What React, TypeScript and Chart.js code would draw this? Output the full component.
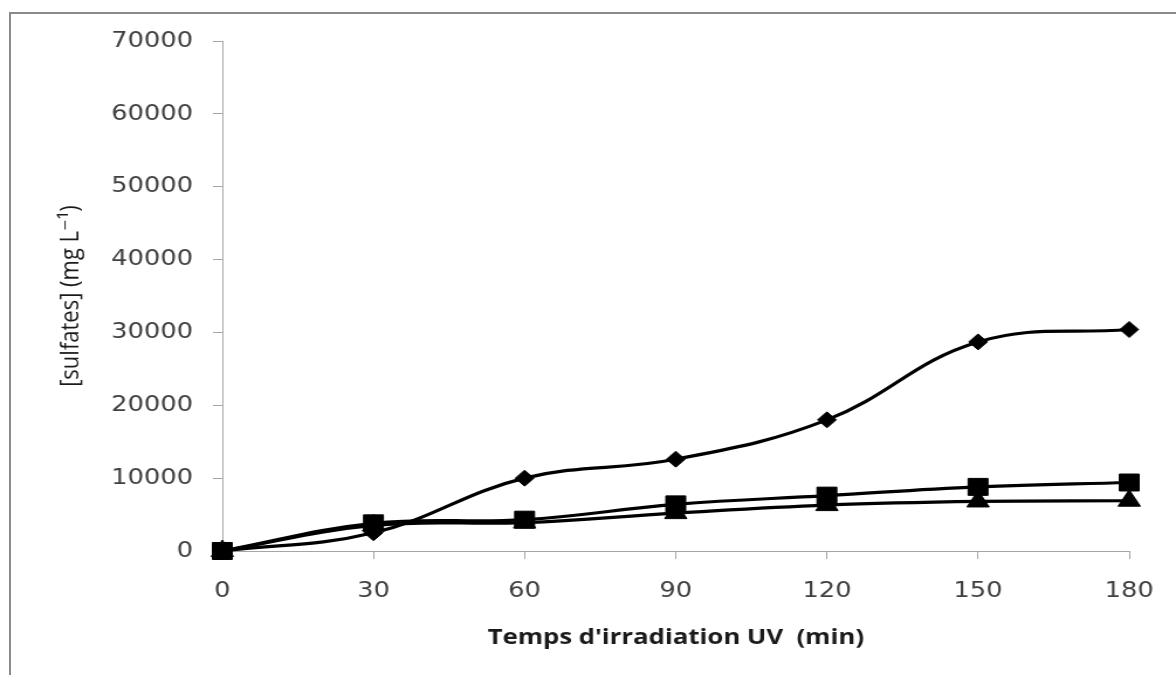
import React, { useEffect, useRef } from "react";
import { Chart, registerables } from "chart.js";

Chart.register(...registerables);

// ---- data ----
const times = [0, 30, 60, 90, 120, 150, 180];
const seriesDiamond = [0, 2500, 10000, 12600, 18000, 28700, 30400];
const seriesSquare = [0, 3800, 4300, 6400, 7600, 8800, 9400];
const seriesTriangle = [0, 3500, 3900, 5200, 6300, 6800, 6900];
const xTickValues = [0, 30, 60, 90, 120, 150, 180];
const yTickValues = [0, 10000, 20000, 30000, 40000, 50000, 60000, 70000];
const xTitle = "Temps d'irradiation UV  (min)";
const yTitle = "[sulfates] (mg L⁻¹)";

// ---- layout ----
const W = 1176;
const H = 675;
const SX = 1.17; // horizontal stretch of the original picture
const IW = Math.round(W / SX);

function makeDataset(values: number[], pointStyle: string, radius: number) {
  return {
    data: times.map((t, i) => ({ x: t, y: values[i] })),
    borderColor: "#000000",
    backgroundColor: "#000000",
    borderWidth: 3.2,
    tension: 0.4,
    pointStyle,
    pointRadius: radius,
    pointBackgroundColor: "#000000",
    pointBorderColor: "#000000",
    pointBorderWidth: 1,
    clip: false as const,
  };
}

export default function App() {
  const ref = useRef<HTMLCanvasElement>(null);

  useEffect(() => {
    const canvas = ref.current;
    if (!canvas) return;
    const tickFont = { family: "'DejaVu Sans', sans-serif", size: 22 };
    const axisColor = "#a6a6a6";
    const chart = new Chart(canvas, {
      type: "line",
      data: {
        datasets: [
          makeDataset(seriesDiamond, "rectRot", 8),
          makeDataset(seriesSquare, "rect", 12),
          makeDataset(seriesTriangle, "triangle", 11),
        ] as any,
      },
      options: {
        responsive: false,
        animation: false,
        devicePixelRatio: 1,
        layout: {
          padding: { left: 0, top: 41, right: IW - Math.round(1130 / SX), bottom: 0 },
        },
        plugins: {
          legend: { display: false },
          tooltip: { enabled: false },
        },
        scales: {
          x: {
            type: "linear",
            min: 0,
            max: 180,
            afterBuildTicks: (scale: any) => {
              scale.ticks = xTickValues.map((v) => ({ value: v }));
            },
            afterFit: (scale: any) => {
              scale.height = 124;
            },
            grid: {
              display: true,
              drawOnChartArea: false,
              drawTicks: true,
              tickLength: 8,
              color: axisColor,
            },
            border: { display: true, color: axisColor, width: 1 },
            ticks: {
              font: tickFont,
              color: "#404040",
              padding: 19,
              maxRotation: 0,
              autoSkip: false,
              callback: (v: any) => String(v),
            },
            title: {
              display: true,
              text: xTitle,
              font: { family: "'Open Sans', sans-serif", size: 22, weight: "bold" },
              color: "#1a1a1a",
              padding: { top: 0, bottom: 24 },
            },
          },
          y: {
            type: "linear",
            min: 0,
            max: 70000,
            afterBuildTicks: (scale: any) => {
              scale.ticks = yTickValues.map((v) => ({ value: v }));
            },
            afterFit: (scale: any) => {
              scale.width = 190;
            },
            grid: {
              display: true,
              drawOnChartArea: false,
              drawTicks: true,
              tickLength: 8,
              color: axisColor,
            },
            border: { display: true, color: axisColor, width: 1 },
            ticks: {
              font: tickFont,
              color: "#404040",
              padding: 17,
              autoSkip: false,
              callback: (v: any) => String(v),
            },
            title: {
              display: true,
              text: yTitle,
              font: { family: "'Open Sans', 'DejaVu Sans', sans-serif", size: 22, weight: 500 },
              color: "#1a1a1a",
              padding: { top: 48, bottom: 0 },
            },
          },
        },
      } as any,
    });
    return () => chart.destroy();
  }, []);

  return (
    <div
      style={{
        position: "fixed",
        left: 0,
        top: 0,
        width: W,
        height: H,
        background: "#ffffff",
        overflow: "hidden",
      }}
    >
      <div
        style={{
          position: "absolute",
          left: 9,
          top: 12,
          width: W,
          height: H,
          borderTop: "2px solid #8a8a8a",
          borderLeft: "2px solid #8a8a8a",
          boxSizing: "border-box",
        }}
      />
      <canvas
        ref={ref}
        width={IW}
        height={H}
        style={{ position: "absolute", left: 0, top: 0, width: W, height: H }}
      />
    </div>
  );
}
